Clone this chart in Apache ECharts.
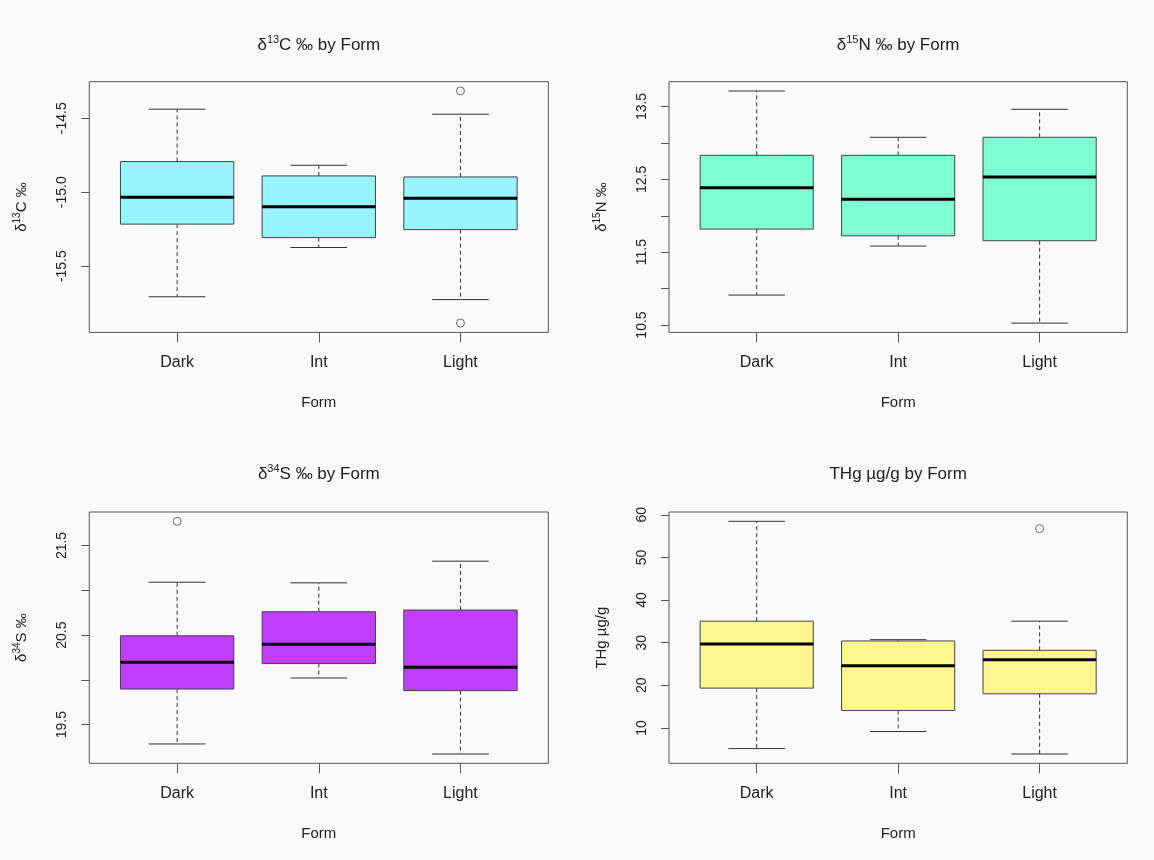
<!DOCTYPE html>
<html><head><meta charset="utf-8">
<script src="https://cdn.jsdelivr.net/npm/echarts@6/dist/echarts.min.js"></script>
<style>html,body{margin:0;padding:0;background:#fafafa}#c{width:1154px;height:860px}</style>
</head><body><div id="c"></div>
<script>
// ---------- data ----------
const categories = ['Dark', 'Int', 'Light'];
const positions = [1, 2, 3];

// [lower whisker, Q1, median, Q3, upper whisker]
const c13Stats = [[-15.707, -15.216, -15.034, -14.793, -14.439],
                  [-15.374, -15.307, -15.099, -14.890, -14.818],
                  [-15.726, -15.253, -15.041, -14.897, -14.473]];
const c13Outliers = [[3, -14.316], [3, -15.885]];
const c13Ticks = [-15.5, -15.0, -14.5];
const c13Labels = [-15.5, -15.0, -14.5];

const n15Stats = [[10.911, 11.817, 12.385, 12.830, 13.713],
                  [11.584, 11.725, 12.225, 12.830, 13.077],
                  [10.526, 11.657, 12.532, 13.077, 13.462]];
const n15Outliers = [];
const n15Ticks = [10.5, 11.0, 11.5, 12.0, 12.5, 13.0, 13.5];
const n15Labels = [10.5, 11.5, 12.5, 13.5];

const s34Stats = [[19.285, 19.898, 20.197, 20.492, 21.090],
                  [20.021, 20.182, 20.399, 20.761, 21.083],
                  [19.173, 19.880, 20.141, 20.780, 21.325]];
const s34Outliers = [[1, 21.770]];
const s34Ticks = [19.5, 20.0, 20.5, 21.0, 21.5];
const s34Labels = [19.5, 20.5, 21.5];

const thgStats = [[5.15, 19.34, 29.7, 35.04, 58.47],
                  [9.15, 14.09, 24.59, 30.4, 30.7],
                  [3.88, 18.0, 26.0, 28.2, 35.04]];
const thgOutliers = [[3, 56.75]];
const thgTicks = [10, 20, 30, 40, 50, 60];
const thgLabels = [10, 20, 30, 40, 50, 60];

const titles = ['{n|δ}{s|13}{n|C ‰ by Form}', '{n|δ}{s|15}{n|N ‰ by Form}',
                '{n|δ}{s|34}{n|S ‰ by Form}', '{n|THg µg/g by Form}'];
const yNames = ['{n|δ}{s|13}{n|C ‰}', '{n|δ}{s|15}{n|N ‰}', '{n|δ}{s|34}{n|S ‰}', '{n|THg µg/g}'];
const fills = ['#98F5FF', '#7FFFD4', '#BF3EFF', '#FFF68F'];

// ---------- layout ----------
const FONT = "'Liberation Sans', Arial, Helvetica, sans-serif";
const TXT = '#222';
const grids = [
  {left: 89.3, top: 81.7, width: 459, height: 250.7},
  {left: 669, top: 81.7, width: 458.3, height: 250.7},
  {left: 89.3, top: 512, width: 459, height: 251.3},
  {left: 669, top: 512, width: 458.3, height: 251.3}
];
const titleY = [45, 474];

const panels = [
  {stats: c13Stats, out: c13Outliers, ticks: c13Ticks, labels: c13Labels, dec: 1},
  {stats: n15Stats, out: n15Outliers, ticks: n15Ticks, labels: n15Labels, dec: 1},
  {stats: s34Stats, out: s34Outliers, ticks: s34Ticks, labels: s34Labels, dec: 1},
  {stats: thgStats, out: thgOutliers, ticks: thgTicks, labels: thgLabels, dec: 0}
];

function rich(size, sup) {
  return {
    n: {fontSize: size, fontFamily: FONT, color: TXT, lineHeight: size + 4},
    s: {fontSize: sup, fontFamily: FONT, color: TXT, lineHeight: sup + 1, verticalAlign: 'top'}
  };
}

const option = {
  backgroundColor: '#fafafa',
  animation: false,
  grid: [], xAxis: [], yAxis: [], series: [], graphic: []
};

panels.forEach((p, i) => {
  const g = grids[i];
  option.grid.push(Object.assign({show: true, borderColor: '#555', borderWidth: 1,
    backgroundColor: 'transparent', outerBoundsMode: 'none', containLabel: false}, g));

  let all = [];
  p.stats.forEach(s => all = all.concat(s));
  p.out.forEach(o => all.push(o[1]));
  const lo = Math.min(...all), hi = Math.max(...all), r = hi - lo;
  const nCat = categories.length;

  option.xAxis.push({
    type: 'value', gridIndex: i, min: 0.5 - 0.04 * nCat, max: nCat + 0.5 + 0.04 * nCat,
    name: 'Form', nameLocation: 'middle', nameGap: 63,
    nameTextStyle: {fontSize: 15, fontFamily: FONT, color: TXT},
    axisLine: {show: false}, splitLine: {show: false},
    axisTick: {show: true, customValues: positions, length: 10, lineStyle: {color: '#555'}},
    axisLabel: {customValues: positions, margin: 22, fontSize: 16, fontFamily: FONT, color: TXT,
      formatter: v => categories[Math.round(v) - 1]}
  });
  option.yAxis.push({
    type: 'value', gridIndex: i, min: lo - 0.04 * r, max: hi + 0.04 * r,
    name: yNames[i], nameLocation: 'middle', nameGap: 58,
    nameTextStyle: {rich: rich(15, 10)},
    axisLine: {show: false}, splitLine: {show: false},
    axisTick: {show: true, customValues: p.ticks, length: 8, lineStyle: {color: '#555'}},
    axisLabel: {customValues: p.labels, rotate: 90, margin: 20, fontSize: 14, fontFamily: FONT, color: TXT,
      formatter: v => v.toFixed(p.dec)}
  });

  const fill = fills[i];
  option.series.push({
    type: 'custom', xAxisIndex: i, yAxisIndex: i,
    encode: {x: 0, y: [1, 2, 3, 4, 5]},
    data: p.stats.map((s, k) => [positions[k]].concat(s)),
    renderItem: function (params, api) {
      const x = api.value(0);
      const pLo = api.coord([x, api.value(1)]);
      const pQ1 = api.coord([x, api.value(2)]);
      const pMed = api.coord([x, api.value(3)]);
      const pQ3 = api.coord([x, api.value(4)]);
      const pHi = api.coord([x, api.value(5)]);
      const bw = api.size([0.8, 0])[0];
      const cw = api.size([0.4, 0])[0];
      const cx = pMed[0];
      const stroke = '#333';
      return {type: 'group', children: [
        {type: 'line', shape: {x1: cx, y1: pQ3[1], x2: cx, y2: pHi[1]}, style: {stroke, lineWidth: 1, lineDash: [4, 3]}},
        {type: 'line', shape: {x1: cx, y1: pQ1[1], x2: cx, y2: pLo[1]}, style: {stroke, lineWidth: 1, lineDash: [4, 3]}},
        {type: 'line', shape: {x1: cx - cw / 2, y1: pHi[1], x2: cx + cw / 2, y2: pHi[1]}, style: {stroke, lineWidth: 1}},
        {type: 'line', shape: {x1: cx - cw / 2, y1: pLo[1], x2: cx + cw / 2, y2: pLo[1]}, style: {stroke, lineWidth: 1}},
        {type: 'rect', shape: {x: cx - bw / 2, y: pQ3[1], width: bw, height: pQ1[1] - pQ3[1]}, style: {fill, stroke: '#444', lineWidth: 1}},
        {type: 'line', shape: {x1: cx - bw / 2, y1: pMed[1], x2: cx + bw / 2, y2: pMed[1]}, style: {stroke: '#000', lineWidth: 3}}
      ]};
    }
  });
  if (p.out.length) {
    option.series.push({
      type: 'scatter', xAxisIndex: i, yAxisIndex: i, data: p.out,
      symbol: 'circle', symbolSize: 8,
      itemStyle: {color: 'transparent', borderColor: '#444', borderWidth: 1}
    });
  }

  option.graphic.push({
    type: 'text', x: g.left + g.width / 2, y: titleY[i < 2 ? 0 : 1],
    style: {text: titles[i], rich: rich(17, 11), align: 'center', verticalAlign: 'middle',
      fill: TXT, fontFamily: FONT, fontSize: 17}
  });
});

const chart = echarts.init(document.getElementById('c'), null, {renderer: 'canvas'});
chart.setOption(option);
</script>
</body></html>
